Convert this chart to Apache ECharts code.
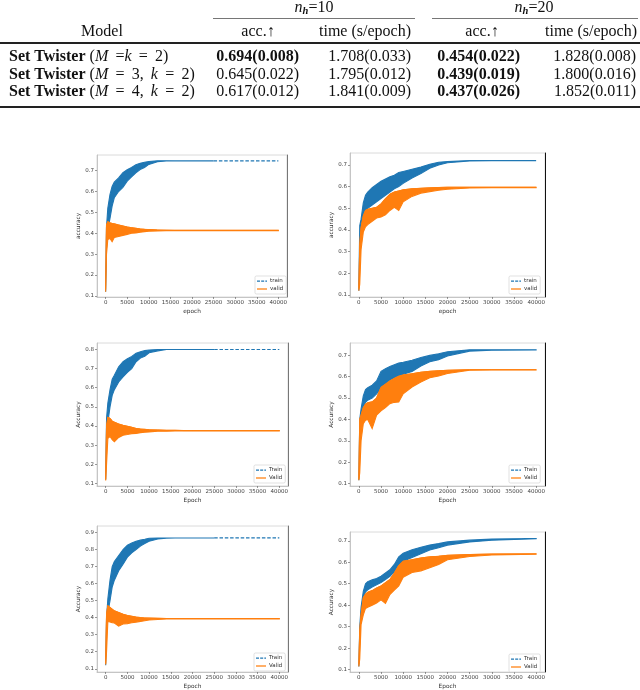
<!DOCTYPE html>
<html>
<head>
<meta charset="utf-8">
<script src="https://cdn.jsdelivr.net/npm/echarts@6/dist/echarts.min.js"></script>
<style>
html, body { margin: 0; padding: 0; background: #fff; }
#main { width: 640px; height: 690px; }
</style>
</head>
<body>
<div id="main"></div>
<script>
const epochs = [0, 200, 500, 1000, 1500, 2000, 3000, 4000, 5000, 6000, 7000, 8000, 9000, 10000,
    12000, 14000, 16000, 18000, 20000, 25000, 30000, 40000];
const xTicks = [0, 5000, 10000, 15000, 20000, 25000, 30000, 35000, 40000];

// row 1, n_h=10
const aTrainHi = [0.13, 0.43, 0.52, 0.585, 0.625, 0.645, 0.665, 0.69, 0.705, 0.715, 0.728, 0.735, 0.74, 0.744, 0.747, 0.747, 0.747, 0.747, 0.747, 0.747, 0.747, 0.747];
const aTrainLo = [0.12, 0.33, 0.42, 0.47, 0.53, 0.57, 0.60, 0.62, 0.65, 0.67, 0.69, 0.705, 0.715, 0.73, 0.743, 0.746, 0.747, 0.747, 0.747, 0.747, 0.747, 0.747];
const aValidHi = [0.13, 0.44, 0.455, 0.45, 0.447, 0.445, 0.44, 0.435, 0.43, 0.427, 0.424, 0.421, 0.419, 0.418, 0.416, 0.415, 0.414, 0.414, 0.414, 0.414, 0.414, 0.414];
const aValidLo = [0.12, 0.30, 0.37, 0.375, 0.36, 0.38, 0.385, 0.39, 0.395, 0.40, 0.402, 0.405, 0.408, 0.41, 0.411, 0.412, 0.412, 0.412, 0.412, 0.412, 0.412, 0.412];

// row 1, n_h=20
const bTrainHi = [0.15, 0.42, 0.45, 0.525, 0.56, 0.575, 0.595, 0.61, 0.625, 0.635, 0.645, 0.652, 0.665, 0.67, 0.68, 0.69, 0.703, 0.712, 0.716, 0.72, 0.72, 0.72];
const bTrainLo = [0.12, 0.36, 0.42, 0.46, 0.49, 0.50, 0.515, 0.53, 0.545, 0.56, 0.575, 0.59, 0.60, 0.615, 0.64, 0.66, 0.685, 0.70, 0.71, 0.718, 0.72, 0.72];
const bValidHi = [0.13, 0.33, 0.41, 0.465, 0.49, 0.495, 0.50, 0.505, 0.52, 0.545, 0.565, 0.575, 0.58, 0.585, 0.59, 0.592, 0.594, 0.596, 0.597, 0.597, 0.597, 0.597];
const bValidLo = [0.12, 0.15, 0.31, 0.39, 0.415, 0.425, 0.44, 0.455, 0.46, 0.47, 0.49, 0.505, 0.49, 0.53, 0.555, 0.57, 0.577, 0.583, 0.588, 0.594, 0.595, 0.595];

// row 2, n_h=10
const cTrainHi = [0.13, 0.44, 0.52, 0.59, 0.645, 0.665, 0.71, 0.736, 0.752, 0.764, 0.78, 0.788, 0.794, 0.797, 0.80, 0.80, 0.80, 0.80, 0.80, 0.80, 0.80, 0.80];
const cTrainLo = [0.12, 0.36, 0.42, 0.50, 0.56, 0.59, 0.63, 0.657, 0.68, 0.70, 0.736, 0.755, 0.765, 0.783, 0.793, 0.80, 0.80, 0.80, 0.80, 0.80, 0.80, 0.80];
const cValidHi = [0.12, 0.40, 0.445, 0.44, 0.425, 0.42, 0.41, 0.403, 0.398, 0.393, 0.387, 0.384, 0.382, 0.38, 0.379, 0.377, 0.377, 0.376, 0.376, 0.376, 0.376, 0.376];
const cValidLo = [0.115, 0.20, 0.335, 0.345, 0.328, 0.318, 0.34, 0.352, 0.355, 0.36, 0.361, 0.365, 0.367, 0.369, 0.372, 0.373, 0.374, 0.374, 0.374, 0.374, 0.374, 0.374];

// row 2, n_h=20
const dTrainHi = [0.12, 0.40, 0.45, 0.51, 0.54, 0.548, 0.56, 0.58, 0.625, 0.638, 0.648, 0.656, 0.664, 0.668, 0.677, 0.69, 0.70, 0.708, 0.717, 0.726, 0.726, 0.726];
const dTrainLo = [0.115, 0.35, 0.40, 0.455, 0.48, 0.49, 0.50, 0.52, 0.545, 0.565, 0.585, 0.595, 0.605, 0.612, 0.625, 0.65, 0.67, 0.68, 0.697, 0.72, 0.724, 0.725];
const dValidHi = [0.12, 0.40, 0.42, 0.455, 0.472, 0.478, 0.482, 0.50, 0.55, 0.565, 0.58, 0.592, 0.602, 0.608, 0.614, 0.621, 0.625, 0.628, 0.63, 0.633, 0.633, 0.633];
const dValidLo = [0.115, 0.15, 0.30, 0.38, 0.396, 0.40, 0.357, 0.42, 0.44, 0.455, 0.474, 0.48, 0.482, 0.52, 0.552, 0.575, 0.595, 0.603, 0.615, 0.63, 0.632, 0.632];

// row 3, n_h=10
const eTrainHi = [0.13, 0.40, 0.51, 0.62, 0.70, 0.73, 0.765, 0.80, 0.825, 0.838, 0.849, 0.855, 0.86, 0.866, 0.868, 0.868, 0.868, 0.868, 0.868, 0.868, 0.868, 0.868];
const eTrainLo = [0.12, 0.35, 0.43, 0.50, 0.58, 0.62, 0.675, 0.714, 0.755, 0.78, 0.80, 0.82, 0.835, 0.849, 0.862, 0.867, 0.868, 0.868, 0.868, 0.868, 0.868, 0.868];
const eValidHi = [0.13, 0.42, 0.47, 0.46, 0.45, 0.44, 0.43, 0.42, 0.413, 0.408, 0.403, 0.40, 0.398, 0.397, 0.396, 0.395, 0.395, 0.395, 0.395, 0.395, 0.395, 0.395];
const eValidLo = [0.125, 0.20, 0.378, 0.375, 0.37, 0.369, 0.35, 0.363, 0.365, 0.37, 0.374, 0.378, 0.382, 0.386, 0.389, 0.392, 0.393, 0.393, 0.393, 0.393, 0.393, 0.393];

// row 3, n_h=20
const fTrainHi = [0.12, 0.30, 0.39, 0.465, 0.50, 0.51, 0.518, 0.524, 0.535, 0.55, 0.565, 0.59, 0.625, 0.642, 0.658, 0.67, 0.68, 0.687, 0.695, 0.703, 0.708, 0.711];
const fTrainLo = [0.115, 0.25, 0.37, 0.435, 0.462, 0.472, 0.485, 0.495, 0.506, 0.52, 0.535, 0.555, 0.585, 0.605, 0.622, 0.64, 0.657, 0.668, 0.68, 0.695, 0.703, 0.71];
const fValidHi = [0.125, 0.28, 0.355, 0.435, 0.452, 0.46, 0.468, 0.48, 0.49, 0.505, 0.52, 0.55, 0.585, 0.605, 0.612, 0.62, 0.625, 0.628, 0.632, 0.636, 0.638, 0.639];
const fValidLo = [0.115, 0.15, 0.31, 0.355, 0.385, 0.39, 0.40, 0.41, 0.425, 0.408, 0.45, 0.47, 0.49, 0.53, 0.552, 0.56, 0.575, 0.59, 0.612, 0.627, 0.634, 0.638];

const yTicks7 = [0.1, 0.2, 0.3, 0.4, 0.5, 0.6, 0.7];
const yTicks8 = [0.1, 0.2, 0.3, 0.4, 0.5, 0.6, 0.7, 0.8];
const yTicks9 = [0.1, 0.2, 0.3, 0.4, 0.5, 0.6, 0.7, 0.8, 0.9];

// table
const tableRows = ['M =k = 2', 'M = 3, k = 2', 'M = 4, k = 2'];
const accH10 = ['0.694(0.008)', '0.645(0.022)', '0.617(0.012)'];
const timeH10 = ['1.708(0.033)', '1.795(0.012)', '1.841(0.009)'];
const accH20 = ['0.454(0.022)', '0.439(0.019)', '0.437(0.026)'];
const timeH20 = ['1.828(0.008)', '1.800(0.016)', '1.852(0.011)'];
const boldH10 = [true, false, false];
const boldH20 = [true, true, true];

const BLUE = '#1f77b4';
const ORANGE = '#ff7f0e';
const TICK_FONT = 'DejaVu Sans';
const SERIF = 'Liberation Serif';
const FS = 16;

// legend handles drawn as short strokes
const ICON_SOLID = 'path://M0,0h12v1.5h-12z';
const ICON_DASH = 'path://M0,0h3.6v1.5h-3.6zM5,0h3.6v1.5h-3.6zM10,0h2v1.5h-2z';

let panels = [
    { grid: { left: 97, top: 155, width: 190, height: 142 }, yMin: 0.095, yMax: 0.775, yTicks: yTicks7,
      tHi: aTrainHi, tLo: aTrainLo, vHi: aValidHi, vLo: aValidLo, dashFrom: 25000,
      names: ['train', 'valid'], xName: 'epoch', yName: 'accuracy', legend: [255, 276], spine: '#777', yGap: 16 },
    { grid: { left: 350, top: 153, width: 195, height: 144 }, yMin: 0.091, yMax: 0.755, yTicks: yTicks7,
      tHi: bTrainHi, tLo: bTrainLo, vHi: bValidHi, vLo: bValidLo, dashFrom: 40000,
      names: ['train', 'valid'], xName: 'epoch', yName: 'accuracy', legend: [509, 276], spine: '#111', yGap: 14 },
    { grid: { left: 97, top: 343, width: 191, height: 143 }, yMin: 0.086, yMax: 0.834, yTicks: yTicks8,
      tHi: cTrainHi, tLo: cTrainLo, vHi: cValidHi, vLo: cValidLo, dashFrom: 25000,
      names: ['Train', 'Valid'], xName: 'Epoch', yName: 'Accuracy', legend: [254, 465], spine: '#777', yGap: 16 },
    { grid: { left: 350, top: 343, width: 195, height: 143 }, yMin: 0.088, yMax: 0.758, yTicks: yTicks7,
      tHi: dTrainHi, tLo: dTrainLo, vHi: dValidHi, vLo: dValidLo, dashFrom: 40000,
      names: ['Train', 'Valid'], xName: 'Epoch', yName: 'Accuracy', legend: [509, 465], spine: '#111', yGap: 14 },
    { grid: { left: 97, top: 526, width: 191, height: 149 }, yMin: 0.081, yMax: 0.938, yTicks: yTicks9,
      tHi: eTrainHi, tLo: eTrainLo, vHi: eValidHi, vLo: eValidLo, dashFrom: 25000,
      names: ['Train', 'Valid'], xName: 'Epoch', yName: 'Accuracy', legend: [254, 653], spine: '#777', yGap: 16 },
    { grid: { left: 350, top: 532, width: 195, height: 143 }, yMin: 0.089, yMax: 0.741, yTicks: yTicks7,
      tHi: fTrainHi, tLo: fTrainLo, vHi: fValidHi, vLo: fValidLo, dashFrom: 40000,
      names: ['Train', 'Valid'], xName: 'Epoch', yName: 'Accuracy', legend: [509, 654], spine: '#111', yGap: 14 }
];

let pairs = function(ys, from, to) {
    let out = [];
    epochs.forEach(function(e, j) {
        if (e >= from && e <= to) {
            out.push([e, ys[j]]);
        }
    });
    return out;
};

// noisy band between the upper and lower envelope
let band = function(idx, hi, lo, color, to) {
    return {
        type: 'custom',
        name: 'band' + idx + color,
        xAxisIndex: idx,
        yAxisIndex: idx * 2,
        silent: true,
        clip: true,
        data: [[0, lo[0]]],
        renderItem: function(params, api) {
            let top = [];
            let bottom = [];
            epochs.forEach(function(e, j) {
                if (e > to) return;
                top.push(api.coord([e, hi[j]]));
                bottom.unshift(api.coord([e, lo[j]]));
            });
            return {
                type: 'polygon',
                shape: { points: top.concat(bottom) },
                style: { fill: color, stroke: color, lineWidth: 1.1 }
            };
        }
    };
};

let grids = [], xAxes = [], yAxes = [], series = [], legends = [];

panels.forEach(function(p, i) {
    grids.push(Object.assign({ show: true, borderColor: '#d0d0d0', borderWidth: 0.8, containLabel: false }, p.grid));

    xAxes.push({
        type: 'value', gridIndex: i, min: -2000, max: 42000,
        name: p.xName, nameLocation: 'middle', nameGap: 11,
        nameTextStyle: { fontFamily: TICK_FONT, fontSize: 5.8, color: '#333' },
        axisLine: { show: true, onZero: false, lineStyle: { color: '#bbb', width: 0.8 } },
        axisTick: { show: true, length: 2, customValues: xTicks, lineStyle: { color: '#555', width: 0.6 } },
        axisLabel: { customValues: xTicks, fontFamily: TICK_FONT, fontSize: 5.5, color: '#444', margin: 3,
            formatter: function(v) { return String(v); } },
        splitLine: { show: false }
    });

    yAxes.push({
        type: 'value', gridIndex: i, min: p.yMin, max: p.yMax,
        name: p.yName, nameLocation: 'middle', nameGap: p.yGap,
        nameTextStyle: { fontFamily: TICK_FONT, fontSize: 5.8, color: '#333' },
        axisLine: { show: true, onZero: false, lineStyle: { color: '#bbb', width: 0.8 } },
        axisTick: { show: true, length: 2, customValues: p.yTicks, lineStyle: { color: '#555', width: 0.6 } },
        axisLabel: { customValues: p.yTicks, fontFamily: TICK_FONT, fontSize: 5.5, color: '#444', margin: 3,
            formatter: function(v) { return v.toFixed(1); } },
        splitLine: { show: false }
    });
    // darker right spine
    yAxes.push({
        type: 'value', gridIndex: i, position: 'right', min: p.yMin, max: p.yMax,
        axisLine: { show: true, onZero: false, lineStyle: { color: p.spine, width: 1 } },
        axisTick: { show: false }, axisLabel: { show: false }, splitLine: { show: false }
    });

    series.push(band(i, p.tHi, p.tLo, BLUE, p.dashFrom));
    series.push({
        type: 'line', name: p.names[0], xAxisIndex: i, yAxisIndex: i * 2,
        data: pairs(p.tHi, p.dashFrom, 40000), symbol: 'none', silent: true,
        itemStyle: { color: BLUE },
        lineStyle: { color: BLUE, width: 1.2, type: [3.5, 1.8] }
    });
    series.push(band(i, p.vHi, p.vLo, ORANGE, 40000));
    series.push({
        type: 'line', name: p.names[1], xAxisIndex: i, yAxisIndex: i * 2,
        data: pairs(p.vHi, 0, 40000), symbol: 'none', silent: true,
        itemStyle: { color: ORANGE },
        lineStyle: { color: ORANGE, width: 1 }
    });

    legends.push({
        data: [{ name: p.names[0], icon: ICON_DASH }, { name: p.names[1], icon: ICON_SOLID }],
        orient: 'vertical', left: p.legend[0], top: p.legend[1],
        padding: [2, 3, 2, 2], itemWidth: 10, itemHeight: 5, itemGap: 2,
        borderColor: '#ccc', borderWidth: 0.6, borderRadius: 1.5, backgroundColor: '#fff',
        selectedMode: false,
        textStyle: { fontFamily: TICK_FONT, fontSize: 5.5, color: '#333', padding: [0, 0, 0, -2] }
    });
});

// table drawn as text
let rich = {
    b: { fontFamily: SERIF, fontSize: FS, fontWeight: 'bold', color: '#111' },
    i: { fontFamily: SERIF, fontSize: FS, fontStyle: 'italic', color: '#111' },
    s: { fontFamily: SERIF, fontSize: 10.5, fontStyle: 'italic', fontWeight: 'bold', color: '#111', padding: [7, 0, 0, 0] }
};
let txt = function(x, y, text, align, bold) {
    return {
        type: 'text', x: x, y: y, silent: true,
        style: {
            text: text, fill: '#111', fontFamily: SERIF, fontSize: FS,
            fontWeight: bold ? 'bold' : 'normal',
            align: align, verticalAlign: 'middle', rich: rich
        }
    };
};
let rule = function(x1, x2, y, w, c) {
    return { type: 'line', silent: true, shape: { x1: x1, y1: y, x2: x2, y2: y }, style: { stroke: c, lineWidth: w } };
};

let graphics = [
    txt(314, 8, '{i|n}{s|h}=10', 'center'),
    txt(534, 8, '{i|n}{s|h}=20', 'center'),
    rule(213, 415, 18.5, 0.9, '#666'),
    rule(432, 638, 18.5, 0.9, '#666'),
    txt(102, 32, 'Model', 'center'),
    txt(258, 32, 'acc.\u2191', 'center'),
    txt(365, 32, 'time (s/epoch)', 'center'),
    txt(482, 32, 'acc.\u2191', 'center'),
    txt(591, 32, 'time (s/epoch)', 'center'),
    rule(0, 640, 43, 2, '#222'),
    rule(0, 640, 107, 2, '#222')
];
let rowY = [57, 74.5, 92];
tableRows.forEach(function(r, k) {
    let m = r.replace(/ /g, ' \u2009').replace(/([Mk])/g, '{i|$1}');
    graphics.push(txt(9, rowY[k], '{b|Set Twister} (' + m + ')', 'left'));
    graphics.push(txt(299, rowY[k], accH10[k], 'right', boldH10[k]));
    graphics.push(txt(411, rowY[k], timeH10[k], 'right'));
    graphics.push(txt(520, rowY[k], accH20[k], 'right', boldH20[k]));
    graphics.push(txt(636, rowY[k], timeH20[k], 'right'));
});

let myChart = echarts.init(document.getElementById('main'), null, { renderer: 'canvas' });
myChart.setOption({
    backgroundColor: '#fff',
    animation: false,
    grid: grids,
    xAxis: xAxes,
    yAxis: yAxes,
    legend: legends,
    series: series,
    graphic: graphics
});
</script>
</body>
</html>
